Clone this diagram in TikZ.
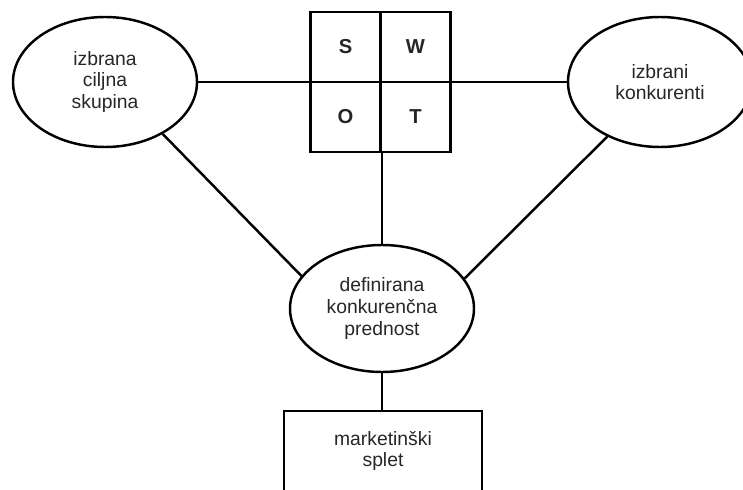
\documentclass[tikz,border=0pt]{standalone}
\usepackage{fontspec}
\setmainfont{Liberation Sans}
\usetikzlibrary{shapes.geometric}

\begin{document}
\begin{tikzpicture}[line width=1.4pt,
  every node/.style={font=\fontsize{11}{12.3}\selectfont, text=black!85},
  bubble/.style={draw, ellipse, minimum width=3.68cm, minimum height=2.6cm, align=center, inner sep=0pt},
  cell/.style={draw, minimum size=1.4cm, font=\fontsize{11.5}{12.3}\selectfont\bfseries},
  mixbox/.style={draw, minimum width=3.96cm, minimum height=1.6cm, align=center}]
  \useasboundingbox (0,0) rectangle (14.86,9.78);
  \clip (0,0) rectangle (14.86,9.78);

  % Define the ellipses
  \node[bubble] (group) at (2.10,8.14) {izbrana\\ciljna\\skupina};
  \node[bubble] (rivals) at (13.20,8.14) {izbrani\\konkurenti};
  \node[bubble, minimum height=2.54cm] (advantage) at (7.64,3.61) {definirana\\konkurenčna\\prednost};

  % SWOT grid
  \node[cell] (s) at (6.91,8.84) {S};
  \node[cell] (w) at (8.31,8.84) {W};
  \node[cell] (o) at (6.91,7.44) {O};
  \node[cell] (t) at (8.31,7.44) {T};

  % Marketing mix box
  \node[mixbox] (mix) at (7.66,0.76) {marketinški\\splet};

  % Draw the connections
  \draw (group.east) -- (group.east -| o.west);
  \draw (rivals.west -| w.east) -- (rivals.west);
  \draw (o.south east) -- (o.south east |- advantage.north);
  \draw (group.318) -- (advantage.158);
  \draw (rivals.226) -- (advantage.20);
  \draw (advantage.south) -- (advantage.south |- mix.north);
\end{tikzpicture}
\end{document}
